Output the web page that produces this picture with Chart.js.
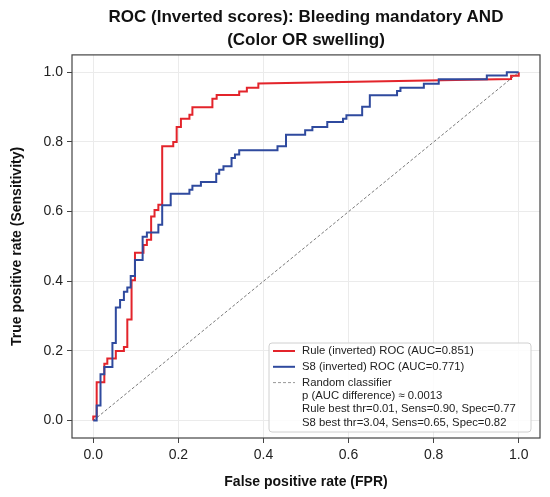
<!DOCTYPE html>
<html>
<head>
<meta charset="utf-8">
<script src="https://cdn.jsdelivr.net/npm/chart.js@4"></script>
<style>
	body { margin: 0; background: #fff; }
	canvas { display: block; }
</style>
</head>
<body>
<canvas id="rocChart" width="550" height="497"></canvas>
<script>
"use strict";

// ROC vertices
const ruleFpr = [0, 0, 0.008, 0.008, 0.026, 0.026, 0.033, 0.033, 0.053, 0.053, 0.072, 0.072, 0.08, 0.08, 0.09, 0.09, 0.098, 0.098, 0.118, 0.118, 0.126, 0.126, 0.136, 0.136, 0.144, 0.144, 0.153, 0.153, 0.162, 0.162, 0.188, 0.188, 0.196, 0.196, 0.206, 0.206, 0.226, 0.226, 0.233, 0.233, 0.28, 0.28, 0.29, 0.29, 0.343, 0.343, 0.361, 0.361, 0.388, 0.388, 0.982, 0.982, 1, 1];
const ruleTpr = [0, 0.012, 0.012, 0.11, 0.11, 0.163, 0.163, 0.178, 0.178, 0.2, 0.2, 0.211, 0.211, 0.29, 0.29, 0.403, 0.403, 0.482, 0.482, 0.504, 0.504, 0.519, 0.519, 0.586, 0.586, 0.605, 0.605, 0.62, 0.62, 0.788, 0.788, 0.8, 0.8, 0.843, 0.843, 0.867, 0.867, 0.878, 0.878, 0.9, 0.9, 0.924, 0.924, 0.935, 0.935, 0.945, 0.945, 0.956, 0.956, 0.968, 0.981, 0.99, 0.99, 1];

const s8Fpr = [0, 0.008, 0.008, 0.017, 0.017, 0.026, 0.026, 0.045, 0.045, 0.053, 0.053, 0.063, 0.063, 0.072, 0.072, 0.08, 0.08, 0.088, 0.088, 0.098, 0.098, 0.116, 0.116, 0.126, 0.126, 0.153, 0.153, 0.162, 0.162, 0.182, 0.182, 0.226, 0.226, 0.233, 0.233, 0.253, 0.253, 0.289, 0.289, 0.296, 0.296, 0.306, 0.306, 0.325, 0.325, 0.333, 0.333, 0.343, 0.343, 0.433, 0.433, 0.453, 0.453, 0.498, 0.498, 0.515, 0.515, 0.55, 0.55, 0.587, 0.587, 0.595, 0.595, 0.632, 0.632, 0.65, 0.65, 0.714, 0.714, 0.722, 0.722, 0.777, 0.777, 0.812, 0.812, 0.925, 0.925, 0.972, 0.972, 1];
const s8Tpr = [0, 0, 0.043, 0.043, 0.133, 0.133, 0.154, 0.154, 0.223, 0.223, 0.325, 0.325, 0.346, 0.346, 0.37, 0.37, 0.382, 0.382, 0.415, 0.415, 0.461, 0.461, 0.528, 0.528, 0.54, 0.54, 0.562, 0.562, 0.618, 0.618, 0.651, 0.651, 0.663, 0.663, 0.674, 0.674, 0.685, 0.685, 0.709, 0.709, 0.72, 0.72, 0.73, 0.73, 0.754, 0.754, 0.764, 0.764, 0.776, 0.776, 0.788, 0.788, 0.821, 0.821, 0.834, 0.834, 0.843, 0.843, 0.857, 0.857, 0.867, 0.867, 0.877, 0.877, 0.901, 0.901, 0.934, 0.934, 0.946, 0.946, 0.956, 0.956, 0.967, 0.967, 0.98, 0.98, 0.991, 0.991, 1, 1];

const chanceFpr = [0, 1];
const chanceTpr = [0, 1];

const tickValues = [0, 0.2, 0.4, 0.6, 0.8, 1.0];

const titleLines = ["ROC (Inverted scores): Bleeding mandatory AND", "(Color OR swelling)"];
const xTitle = "False positive rate (FPR)";
const yTitle = "True positive rate (Sensitivity)";

const ruleLabel = "Rule (inverted) ROC (AUC=0.851)";
const s8Label = "S8 (inverted) ROC (AUC=0.771)";
const chanceLabel = "Random classifier";
const extraLines = [
	"p (AUC difference) \u2248 0.0013",
	"Rule best thr=0.01, Sens=0.90, Spec=0.77",
	"S8 best thr=3.04, Sens=0.65, Spec=0.82",
];

const RED = "#e3242b";
const BLUE = "#2f4a9e";
const FONT = "'Liberation Sans', Arial, sans-serif";

const toPoints = (xs, ys) => xs.map((x, i) => ({ x: x, y: ys[i] }));

// frame round the plot area
const framePlugin = {
	id: "frame",
	afterDatasetsDraw: (chart) => {
		const { ctx, chartArea } = chart;
		ctx.save();
		ctx.strokeStyle = "#444";
		ctx.lineWidth = 1.2;
		ctx.strokeRect(chartArea.left, chartArea.top, chartArea.right - chartArea.left, chartArea.bottom - chartArea.top);
		ctx.restore();
	},
};

// matplotlib style legend box, bottom right
const legendPlugin = {
	id: "boxLegend",
	afterDraw: (chart) => {
		const { ctx, chartArea } = chart;
		const w = 262;
		const h = 89;
		const x0 = chartArea.right - 9 - w;
		const y0 = chartArea.bottom - 6 - h;
		ctx.save();
		ctx.fillStyle = "rgba(255,255,255,0.85)";
		ctx.strokeStyle = "#d0d0d0";
		ctx.lineWidth = 1;
		ctx.beginPath();
		ctx.roundRect(x0, y0, w, h, 3);
		ctx.fill();
		ctx.stroke();

		const rows = [
			{ text: ruleLabel, color: RED, dash: [], width: 2 },
			{ text: s8Label, color: BLUE, dash: [], width: 2 },
			{ text: chanceLabel, color: "#999", dash: [3, 2], width: 1 },
		];
		extraLines.forEach((t) => rows.push({ text: t }));

		ctx.font = "11.3px " + FONT;
		ctx.textBaseline = "middle";
		ctx.fillStyle = "#222";
		let y = y0 + 8;
		rows.forEach((row, i) => {
			if (row.color) {
				ctx.beginPath();
				ctx.setLineDash(row.dash);
				ctx.strokeStyle = row.color;
				ctx.lineWidth = row.width;
				ctx.moveTo(x0 + 4, y);
				ctx.lineTo(x0 + 26, y);
				ctx.stroke();
				ctx.setLineDash([]);
			}
			ctx.fillText(row.text, x0 + 33, y);
			y += i < 2 ? 15.8 : 13.3;
		});
		ctx.restore();
	},
};

const axisTicks = (scale) => {
	scale.ticks = tickValues.map((v) => ({ value: v }));
};

const ctx = document.getElementById("rocChart").getContext("2d");
const rocChart = new Chart(ctx, {
	type: "scatter",
	data: {
		datasets: [
			{
				label: ruleLabel,
				data: toPoints(ruleFpr, ruleTpr),
				showLine: true,
				borderColor: RED,
				borderWidth: 2,
				pointRadius: 0,
				order: 2,
			},
			{
				label: s8Label,
				data: toPoints(s8Fpr, s8Tpr),
				showLine: true,
				borderColor: BLUE,
				borderWidth: 2,
				pointRadius: 0,
				order: 1,
			},
			{
				label: chanceLabel,
				data: toPoints(chanceFpr, chanceTpr),
				showLine: true,
				borderColor: "#7a7a7a",
				borderWidth: 1,
				borderDash: [3, 2],
				pointRadius: 0,
				order: 3,
			},
		],
	},
	options: {
		responsive: false,
		animation: false,
		devicePixelRatio: 1,
		layout: { padding: { left: 6, right: 10, top: 4, bottom: 6 } },
		plugins: {
			legend: { display: false },
			tooltip: { enabled: false },
			title: {
				display: true,
				text: titleLines,
				fullSize: false,
				color: "#111",
				font: { family: FONT, size: 17, weight: "bold", lineHeight: 1.35 },
				padding: { top: 1.5, bottom: 3.5 },
			},
		},
		scales: {
			x: {
				type: "linear",
				min: -0.05,
				max: 1.05,
				afterBuildTicks: axisTicks,
				afterFit: (scale) => { scale.height = 53; },
				grid: { color: "#ebebeb", tickColor: "#444", tickLength: 5, lineWidth: 1 },
				border: { display: false },
				ticks: {
					color: "#222",
					padding: 4,
					font: { family: FONT, size: 14 },
					callback: (v) => v.toFixed(1),
				},
				title: {
					display: true,
					text: xTitle,
					color: "#111",
					font: { family: FONT, size: 14, weight: "bold" },
					padding: { top: 6, bottom: 0 },
				},
			},
			y: {
				type: "linear",
				min: -0.05,
				max: 1.05,
				afterBuildTicks: axisTicks,
				afterFit: (scale) => { scale.width = 66; },
				grid: { color: "#ebebeb", tickColor: "#444", tickLength: 5, lineWidth: 1 },
				border: { display: false },
				ticks: {
					color: "#222",
					padding: 4,
					font: { family: FONT, size: 14 },
					callback: (v) => v.toFixed(1),
				},
				title: {
					display: true,
					text: yTitle,
					color: "#111",
					font: { family: FONT, size: 14, weight: "bold" },
					padding: { top: 3, bottom: 4 },
				},
			},
		},
	},
	plugins: [framePlugin, legendPlugin],
});
</script>
</body>
</html>
